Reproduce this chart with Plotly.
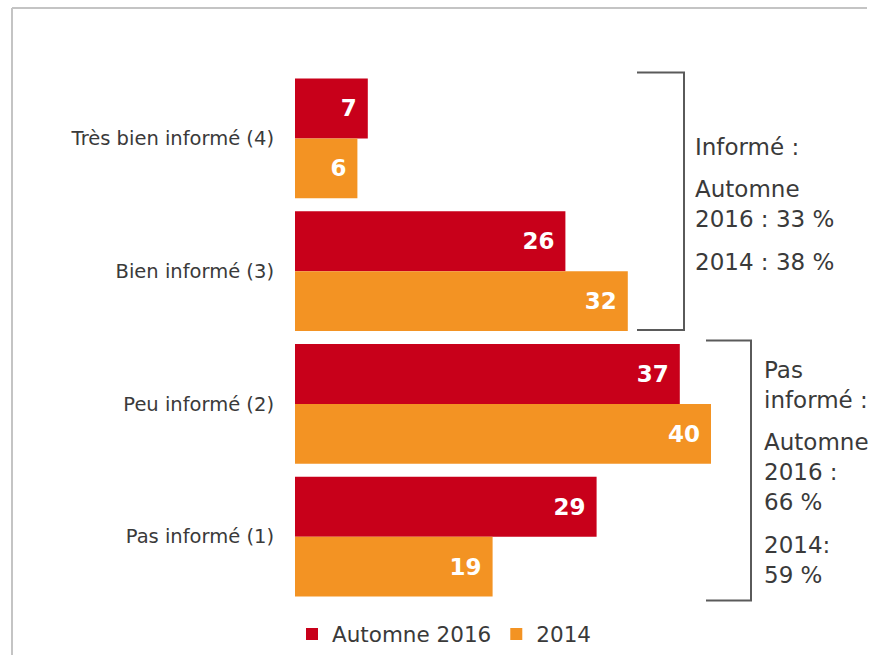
import plotly.graph_objects as go

# Survey levels (top to bottom) and shares in %
categories = ["Très bien informé (4)", "Bien informé (3)", "Peu informé (2)", "Pas informé (1)"]
autumn_2016 = [7, 26, 37, 29]
year_2014 = [6, 32, 40, 19]
series_names = ["Automne 2016", "2014"]

RED = "#C8001A"
ORANGE = "#F39323"
TEXT = "#3a3a3a"
FONT = "Verdana, DejaVu Sans, sans-serif"

W, H = 870, 656
ML, MR, MT, MB = 295, 3, 72, 52
PW, PH = W - ML - MR, H - MT - MB


def px(x):
    return (x - ML) / PW


def py(y):
    return (H - MB - y) / PH


fig = go.Figure()
for name, vals, col in [(series_names[0], autumn_2016, RED), (series_names[1], year_2014, ORANGE)]:
    fig.add_trace(go.Bar(
        name=name, y=categories, x=vals, orientation="h",
        marker=dict(color=col, line=dict(width=0)),
        text=vals, texttemplate="%{x}\u00a0", textposition="inside",
        insidetextanchor="end",
        textfont=dict(family=FONT, size=23, color="white", weight="bold"),
    ))

shapes = []
# outer frame (top and left edges; the rest runs off the page)
frame = dict(color="#c4c4c4", width=2)
shapes.append(dict(type="line", xref="paper", yref="paper",
                   x0=px(12), x1=px(867), y0=py(8), y1=py(8), line=frame))
shapes.append(dict(type="line", xref="paper", yref="paper",
                   x0=px(12), x1=px(12), y0=py(8), y1=py(H), line=frame))


def bracket(xl, xr, yt, yb):
    return dict(type="path", xref="paper", yref="paper",
                path=f"M {px(xl)},{py(yt)} L {px(xr)},{py(yt)} L {px(xr)},{py(yb)} L {px(xl)},{py(yb)}",
                line=dict(color="#5a5a5a", width=2))


shapes.append(bracket(637, 684, 72.5, 330.5))
shapes.append(bracket(706, 751, 341, 601.5))

notes = [
    (693, 147, "Informé :"),
    (693, 204, "Automne<br>2016 : 33 %"),
    (693, 262, "2014 : 38 %"),
    (762, 386, "Pas<br>informé :"),
    (762, 473, "Automne<br>2016 :<br>66 %"),
    (762, 561, "2014:<br>59 %"),
]
annotations = [
    dict(xref="paper", yref="paper", x=px(x), y=py(y), text=t, showarrow=False,
         xanchor="left", yanchor="middle", align="left",
         font=dict(family=FONT, size=23, color=TEXT))
    for x, y, t in notes
]

fig.update_layout(
    width=W, height=H,
    margin=dict(l=ML, r=MR, t=MT, b=MB, pad=0),
    paper_bgcolor="white", plot_bgcolor="white",
    barmode="group", bargap=0.098, bargroupgap=0,
    font=dict(family=FONT, color=TEXT),
    xaxis=dict(range=[0, PW / 10.4], visible=False, fixedrange=True),
    yaxis=dict(autorange="reversed", showgrid=False, zeroline=False, showline=False,
               ticks="", ticklabelstandoff=20,
               tickfont=dict(family=FONT, size=19.5, color=TEXT)),
    legend=dict(orientation="h", x=px(292), y=py(634), xanchor="left", yanchor="middle",
                font=dict(family=FONT, size=21.5, color=TEXT),
                itemwidth=30, traceorder="normal", bgcolor="rgba(0,0,0,0)"),
    shapes=shapes,
    annotations=annotations,
    showlegend=True,
)

fig.write_html("out.html")
